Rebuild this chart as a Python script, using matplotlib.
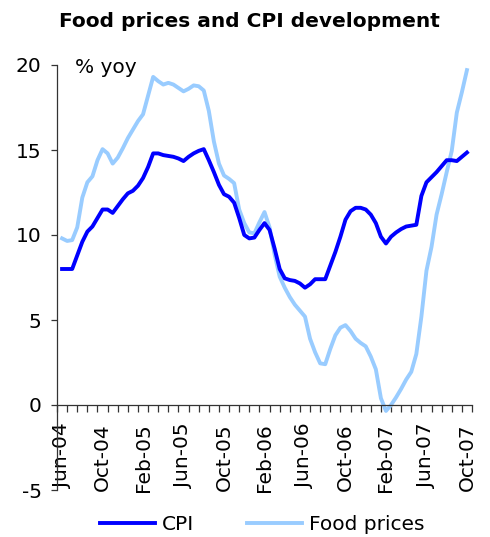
import numpy as np
import matplotlib
matplotlib.use("Agg")
import matplotlib.pyplot as plt

# Semi-monthly observations, Jun-04 .. Oct-07
cpi = [8.0, 8.0, 8.0, 8.8, 9.6, 10.2, 10.5, 11.0, 11.5, 11.5,
       11.3, 11.7, 12.1, 12.45, 12.6, 12.9, 13.35, 14.0, 14.8, 14.8,
       14.7, 14.65, 14.6, 14.5, 14.35, 14.6, 14.8, 14.95, 15.05, 14.4,
       13.7, 12.95, 12.4, 12.25, 11.9, 11.0, 10.0, 9.8, 9.85, 10.3,
       10.7, 10.3, 9.2, 8.0, 7.45, 7.35, 7.3, 7.15, 6.9, 7.1,
       7.4, 7.4, 7.4, 8.2, 9.0, 9.9, 10.9, 11.4, 11.6, 11.6,
       11.5, 11.2, 10.7, 9.9, 9.5, 9.9, 10.15, 10.35, 10.5, 10.55,
       10.6, 12.3, 13.1, 13.4, 13.7, 14.05, 14.4, 14.4, 14.35, 14.6,
       14.85]
food = [9.8, 9.65, 9.7, 10.45, 12.2, 13.1, 13.45, 14.4, 15.05, 14.8,
        14.2, 14.55, 15.1, 15.7, 16.2, 16.7, 17.1, 18.2, 19.3, 19.05,
        18.85, 18.95, 18.85, 18.65, 18.45, 18.6, 18.8, 18.75, 18.5, 17.3,
        15.5, 14.2, 13.5, 13.3, 13.05, 11.5, 10.7, 10.15, 10.1, 10.75,
        11.35, 10.45, 8.85, 7.55, 6.9, 6.35, 5.9, 5.55, 5.2, 3.9,
        3.1, 2.45, 2.4, 3.3, 4.1, 4.55, 4.7, 4.35, 3.9, 3.65,
        3.45, 2.85, 2.1, 0.4, -0.35, 0.0, 0.45, 0.95, 1.5, 1.95,
        3.0, 5.2, 7.9, 9.3, 11.2, 12.4, 13.7, 14.95, 17.2, 18.4,
        19.7]
months = ["Jun-04", "Jul-04", "Aug-04", "Sep-04", "Oct-04", "Nov-04", "Dec-04",
          "Jan-05", "Feb-05", "Mar-05", "Apr-05", "May-05", "Jun-05", "Jul-05",
          "Aug-05", "Sep-05", "Oct-05", "Nov-05", "Dec-05", "Jan-06", "Feb-06",
          "Mar-06", "Apr-06", "May-06", "Jun-06", "Jul-06", "Aug-06", "Sep-06",
          "Oct-06", "Nov-06", "Dec-06", "Jan-07", "Feb-07", "Mar-07", "Apr-07",
          "May-07", "Jun-07", "Jul-07", "Aug-07", "Sep-07", "Oct-07"]
yticks = [-5, 0, 5, 10, 15, 20]

fs = 14.5
fig = plt.figure(figsize=(4.9, 5.37), dpi=100)
ax = fig.add_axes([57/490, 1-490/537, (472-57)/490, (490-65)/537])

x = 0.5 + np.arange(len(cpi)) / 2.0
ax.plot(x, cpi, color="#0000FF", lw=2.8, solid_joinstyle="round", label="CPI", zorder=3)
ax.plot(x, food, color="#99CCFF", lw=2.8, solid_joinstyle="round", label="Food prices", zorder=2)

ax.set_xlim(0, len(months))
ax.set_ylim(-5, 20)

for s in ["top", "right"]:
    ax.spines[s].set_visible(False)
ax.spines["left"].set_color("#333333")
ax.spines["left"].set_linewidth(0.9)
ax.spines["bottom"].set_position(("data", 0))
ax.spines["bottom"].set_color("#333333")
ax.spines["bottom"].set_linewidth(0.9)

ax.set_yticks(yticks)
ax.set_yticklabels([str(v) for v in yticks], fontsize=fs)
ax.tick_params(axis="y", direction="out", length=4, width=0.9, color="#333333", pad=7)

lab_idx = list(range(0, len(months), 4))
ax.set_xticks([i + 0.5 for i in lab_idx])
ax.set_xticklabels([months[i] for i in lab_idx], rotation=90, fontsize=fs)
ax.set_xticks(np.arange(0, len(months) + 1), minor=True)
ax.tick_params(axis="x", which="major", length=0, pad=13)
ax.tick_params(axis="x", which="minor", direction="out", length=5, width=0.9, color="#333333")
for t in ax.get_xticklabels():
    t.set_va("top")
    t.set_ha("center")

ax.text(0.043, 0.995, "% yoy", transform=ax.transAxes, fontsize=fs, va="center", ha="left")

fig.text(0.51, 0.96, "Food prices and CPI development", fontsize=14.5,
         fontweight="bold", ha="center", va="center")

fig.legend(loc="center", bbox_to_anchor=(0.535, 0.024), ncol=2, frameon=False,
           fontsize=fs, handlelength=2.75, handletextpad=0.35, columnspacing=2.6,
           borderaxespad=0)

fig.savefig("out.png", dpi=100)
